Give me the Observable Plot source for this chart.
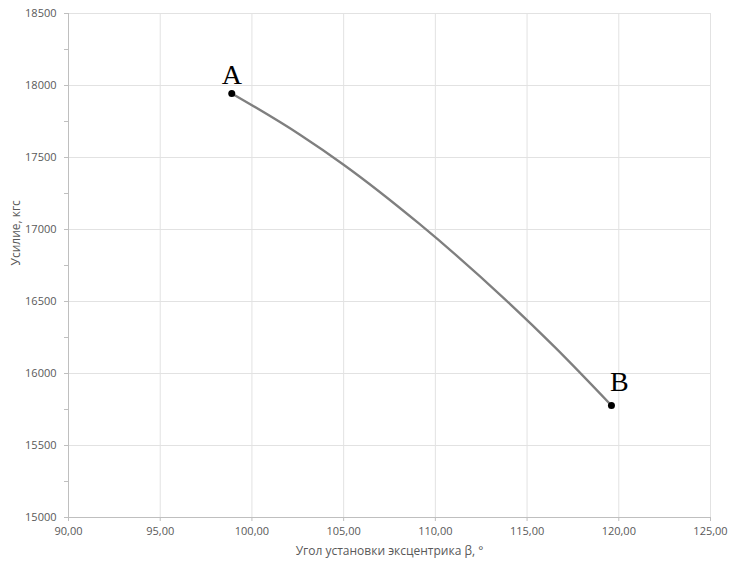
<!DOCTYPE html>
<html>
<head>
<meta charset="utf-8">
<script src="https://cdn.jsdelivr.net/npm/d3@7"></script>
<script src="https://cdn.jsdelivr.net/npm/@observablehq/plot@0.6"></script>
<style>
  html, body { margin: 0; padding: 0; background: #fff; }
  #chart { width: 731px; height: 568px; }
</style>
</head>
<body>
<div id="chart"></div>
<script>
// Curve data (angle β in degrees, force in kgf)
const angles = [98.9, 102.6, 105.0, 109.1, 113.8, 116.5, 119.6];
const forces = [17945, 17660, 17450, 17042, 16515, 16185, 15778];

// End point labels
const pointNames = ["A", "B"];
const pointAngles = [98.9, 119.6];
const pointForces = [17945, 15778];

// Tick values
const xTicks = [90, 95, 100, 105, 110, 115, 120, 125];
const yTicks = [15000, 15500, 16000, 16500, 17000, 17500, 18000, 18500];
const yMinorTicks = [15250, 15750, 16250, 16750, 17250, 17750, 18250];

const xLabel = "Угол установки эксцентрика β, °";
const yLabel = "Усилие, кгс";

const curve = angles.map((a, i) => ({x: a, y: forces[i]}));
const pts = pointNames.map((n, i) => ({name: n, x: pointAngles[i], y: pointForces[i]}));

const fmtX = d => d.toFixed(2).replace(".", ",");
const font = "'Open Sans', 'Noto Sans', sans-serif";

const chart = Plot.plot({
  width: 731,
  height: 568,
  marginLeft: 68,
  marginRight: 21,
  marginTop: 13,
  marginBottom: 51,
  style: {fontFamily: font, fontSize: "11px", color: "#595959", background: "#fff"},
  x: {type: "linear", domain: [90, 125], label: null},
  y: {type: "linear", domain: [15000, 18500], label: null},
  marks: [
    Plot.gridX(xTicks, {stroke: "#e2e2e2", strokeOpacity: 1, strokeWidth: 1}),
    Plot.gridY(yTicks, {stroke: "#e2e2e2", strokeOpacity: 1, strokeWidth: 1}),
    Plot.ruleX([90], {stroke: "#bfbfbf"}),
    Plot.ruleY([15000], {stroke: "#bfbfbf"}),
    Plot.axisY(yTicks, {tickSize: 4, tickPadding: 8, stroke: "#bfbfbf", fill: "#595959", fontSize: 11, label: null, tickFormat: d => String(d)}),
    Plot.axisY(yMinorTicks, {tickSize: 4, tickFormat: () => "", stroke: "#bfbfbf", label: null}),
    Plot.axisX(xTicks, {tickSize: 4, tickPadding: 6, stroke: "#bfbfbf", fill: "#595959", fontSize: 11, label: null, tickFormat: fmtX}),
    Plot.line(curve, {x: "x", y: "y", curve: "monotone-x", stroke: "#7f7f7f", strokeWidth: 2.3}),
    Plot.dot(pts, {x: "x", y: "y", r: 3.5, fill: "#000", stroke: "none"}),
    Plot.text(pts.slice(0, 1), {x: "x", y: "y", text: "name", dy: -18, fontFamily: "'Liberation Serif', 'DejaVu Serif', serif", fontSize: 28, fill: "#000", textAnchor: "middle"}),
    Plot.text(pts.slice(1), {x: "x", y: "y", text: "name", dy: -23, dx: 8, fontFamily: "'Liberation Serif', 'DejaVu Serif', serif", fontSize: 28, fill: "#000", textAnchor: "middle"}),
    Plot.text([xLabel], {frameAnchor: "bottom", dy: 37, fontSize: 12, fill: "#595959"}),
    Plot.text([yLabel], {frameAnchor: "left", dx: -52, rotate: -90, fontSize: 12, fill: "#595959"})
  ]
});

document.getElementById("chart").appendChild(chart);
</script>
</body>
</html>
